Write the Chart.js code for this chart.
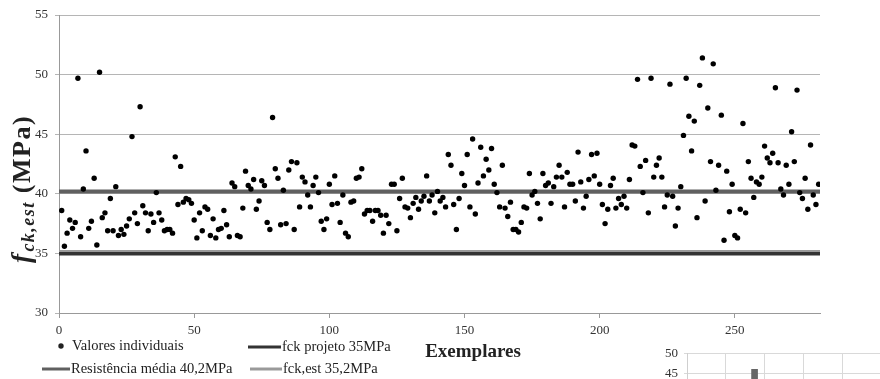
<!DOCTYPE html>
<html>
<head>
<meta charset="utf-8">
<script src="https://cdn.jsdelivr.net/npm/chart.js@4.4.1/dist/chart.umd.min.js"></script>
<style>
  body { margin: 0; background: #fff; overflow: hidden; }
  #wrap { position: relative; width: 880px; height: 379px; overflow: hidden; }
  #mainChart { position: absolute; left: 0; top: 0; }
  #smallChart { position: absolute; left: 640px; top: 340px; }
</style>
</head>
<body>
<div id="wrap">
  <canvas id="mainChart" width="880" height="379"></canvas>
  <canvas id="smallChart" width="280" height="87"></canvas>
</div>
<script>
// valores individuais, exemplares 1..281
const valores = [
  38.6, 35.6, 36.7, 37.8, 37.1, 37.6, 49.7, 36.4, 40.4, 43.6,
  37.1, 37.7, 41.3, 35.7, 50.2, 38.0, 38.4, 36.9, 39.6, 36.9,
  40.6, 36.5, 37.0, 36.6, 37.3, 37.9, 44.8, 38.4, 37.5, 47.3,
  39.0, 38.4, 36.9, 38.3, 37.6, 40.1, 38.4, 37.8, 36.9, 37.0,
  37.0, 36.7, 43.1, 39.1, 42.3, 39.3, 39.6, 39.5, 39.2, 37.8,
  36.3, 38.4, 36.9, 38.9, 38.7, 36.5, 37.9, 36.3, 37.0, 37.1,
  38.6, 37.4, 36.4, 40.9, 40.6, 36.5, 36.4, 38.8, 41.9, 40.7,
  40.4, 41.2, 38.7, 39.4, 41.1, 40.7, 37.6, 37.0, 46.4, 42.1,
  41.3, 37.4, 40.3, 37.5, 42.0, 42.7, 37.0, 42.6, 38.9, 41.4,
  41.0, 39.9, 38.9, 40.7, 41.4, 40.1, 37.7, 37.0, 37.9, 40.8,
  39.1, 41.5, 39.2, 37.6, 39.9, 36.7, 36.4, 39.3, 39.4, 41.3,
  41.4, 42.1, 38.3, 38.6, 38.6, 37.7, 38.6, 38.6, 38.2, 36.7,
  38.2, 37.5, 40.8, 40.8, 36.9, 39.6, 41.3, 38.9, 38.8, 38.0,
  39.2, 39.7, 38.7, 39.4, 39.8, 41.5, 39.4, 39.9, 38.4, 40.2,
  39.4, 39.7, 38.9, 43.3, 42.4, 39.1, 37.0, 39.6, 41.7, 40.7,
  43.3, 38.9, 44.6, 38.3, 40.9, 43.9, 41.5, 42.9, 42.0, 43.8,
  40.8, 40.1, 38.9, 42.4, 38.8, 38.1, 39.3, 37.0, 37.0, 36.8,
  37.6, 38.9, 38.8, 41.7, 39.9, 40.2, 39.2, 37.9, 41.7, 40.7,
  40.9, 39.2, 40.6, 41.4, 42.4, 41.4, 38.9, 41.8, 40.8, 40.8,
  39.4, 43.5, 41.0, 38.8, 39.8, 41.2, 43.3, 41.5, 43.4, 40.8,
  39.1, 37.5, 38.7, 40.7, 41.3, 38.8, 39.6, 39.1, 39.8, 38.8,
  41.2, 44.1, 44.0, 49.6, 42.3, 40.1, 42.8, 38.4, 49.7, 41.4,
  42.4, 43.0, 41.4, 38.9, 39.9, 49.2, 39.8, 37.3, 38.8, 40.6,
  44.9, 49.7, 46.5, 43.6, 46.1, 38.0, 49.1, 51.4, 39.4, 47.2,
  42.7, 50.9, 40.3, 42.4, 46.6, 36.1, 41.9, 38.5, 40.8, 36.5,
  36.3, 38.7, 45.9, 38.4, 42.7, 41.3, 39.7, 41.0, 40.8, 41.4,
  44.0, 43.0, 42.6, 43.4, 48.9, 42.6, 40.4, 39.9, 42.4, 40.8,
  45.2, 42.7, 48.7, 40.1, 39.6, 41.3, 38.7, 44.1, 39.9, 39.1,
  40.8
];

const resistenciaMedia = 40.2;
const fckProjeto = 35;
const fckEst = 35.2;

const xTicks = [0, 50, 100, 150, 200, 250];
const yTicks = [30, 35, 40, 45, 50, 55];

// the cut-off chart in the lower right corner
const smallBarX = [1.74];
const smallBarY = [46.1];
const smallTicks = [35, 40, 45, 50];

const xMax = 281.5;
const serif = '"Liberation Serif", "DejaVu Serif", serif';

function hLine(value) {
  return [{ x: 0, y: value }, { x: xMax, y: value }];
}

const points = valores.map((v, i) => ({ x: i + 1, y: v }));

// titles and legend drawn by hand, layout of the original is not a Chart.js legend
const decorPlugin = {
  id: 'decor',
  afterDraw(chart) {
    const ctx = chart.ctx;
    ctx.save();
    ctx.fillStyle = '#222';
    ctx.textBaseline = 'middle';

    // x title
    ctx.font = 'bold 19px ' + serif;
    ctx.textAlign = 'center';
    ctx.fillText('Exemplares', 473, 352);

    // legend
    ctx.textAlign = 'left';
    ctx.font = '14.5px ' + serif;
    ctx.beginPath();
    ctx.arc(61, 346, 2.7, 0, Math.PI * 2);
    ctx.fill();
    ctx.fillText('Valores individuais', 72, 346);

    ctx.lineWidth = 3;
    ctx.strokeStyle = '#333';
    ctx.beginPath(); ctx.moveTo(248, 347); ctx.lineTo(281, 347); ctx.stroke();
    ctx.fillText('fck projeto 35MPa', 282, 347);

    ctx.strokeStyle = '#606060';
    ctx.beginPath(); ctx.moveTo(42, 369); ctx.lineTo(70, 369); ctx.stroke();
    ctx.fillText('Resistência média 40,2MPa', 71, 369);

    ctx.strokeStyle = '#9a9a9a';
    ctx.beginPath(); ctx.moveTo(250, 369); ctx.lineTo(282, 369); ctx.stroke();
    ctx.fillText('fck,est 35,2MPa', 283, 369);

    // y title f_ck,est (MPa)
    const fFont = 'italic bold 27px ' + serif;
    const subFont = 'italic bold 18px ' + serif;
    const restFont = 'bold 26px ' + serif;
    ctx.letterSpacing = '1.5px';
    ctx.font = fFont; const w1 = ctx.measureText('f').width + 1;
    ctx.font = subFont; const w2 = ctx.measureText('ck,est').width;
    ctx.font = restFont; const w3 = ctx.measureText(' (MPa)').width;
    const total = w1 + w2 + w3;
    ctx.translate(22, 189);
    ctx.rotate(-Math.PI / 2);
    ctx.textAlign = 'left';
    ctx.textBaseline = 'alphabetic';
    let pos = -total / 2;
    ctx.font = fFont; ctx.fillText('f', pos, 8); pos += w1;
    ctx.font = subFont; ctx.fillText('ck,est', pos, 12); pos += w2;
    ctx.font = restFont; ctx.fillText(' (MPa)', pos, 8);
    ctx.restore();
  }
};

new Chart(document.getElementById('mainChart'), {
  type: 'scatter',
  data: {
    datasets: [
      {
        label: 'Valores individuais',
        data: points,
        pointRadius: 2.7,
        pointHoverRadius: 2.7,
        pointBackgroundColor: '#000',
        pointBorderWidth: 0,
        order: 0
      },
      {
        label: 'fck projeto 35MPa',
        type: 'line',
        data: hLine(fckProjeto),
        borderColor: '#333',
        borderWidth: 4,
        pointRadius: 0,
        order: 3
      },
      {
        label: 'fck,est 35,2MPa',
        type: 'line',
        data: hLine(fckEst),
        borderColor: '#9a9a9a',
        borderWidth: 2,
        pointRadius: 0,
        order: 2
      },
      {
        label: 'Resistência média 40,2MPa',
        type: 'line',
        data: hLine(resistenciaMedia),
        borderColor: '#606060',
        borderWidth: 4,
        pointRadius: 0,
        order: 1
      }
    ]
  },
  options: {
    responsive: false,
    animation: false,
    layout: { padding: { left: 0, right: 60, top: 15, bottom: 0 } },
    plugins: {
      legend: { display: false },
      tooltip: { enabled: false }
    },
    scales: {
      x: {
        type: 'linear',
        min: 0,
        max: xMax,
        afterFit: scale => { scale.height = 66; },
        afterBuildTicks: scale => { scale.ticks = xTicks.map(v => ({ value: v })); },
        grid: { drawOnChartArea: false, drawTicks: true, tickLength: 5, color: '#999' },
        border: { color: '#999' },
        ticks: { color: '#333', padding: 5, maxRotation: 0, font: { family: serif, size: 13 } }
      },
      y: {
        min: 30,
        max: 55,
        afterFit: scale => { scale.width = 59; },
        afterBuildTicks: scale => { scale.ticks = yTicks.map(v => ({ value: v })); },
        grid: { color: '#b5b5b5', tickLength: 4 },
        border: { color: '#999' },
        ticks: { color: '#333', padding: 7, font: { family: serif, size: 13 } }
      }
    }
  },
  plugins: [decorPlugin]
});

new Chart(document.getElementById('smallChart'), {
  type: 'bar',
  data: {
    datasets: [{
      data: smallBarX.map((x, i) => ({ x: x, y: smallBarY[i] })),
      backgroundColor: '#666',
      barThickness: 6
    }]
  },
  options: {
    responsive: false,
    animation: false,
    layout: { padding: { left: 0, right: 0, top: 12, bottom: 0 } },
    plugins: { legend: { display: false }, tooltip: { enabled: false } },
    scales: {
      x: {
        type: 'linear',
        min: 0,
        max: 6,
        offset: false,
        afterFit: scale => { scale.height = 0; },
        ticks: { display: false, stepSize: 1 },
        grid: { color: '#d9d9d9', tickLength: 0, offset: false },
        border: { color: '#d9d9d9' }
      },
      y: {
        min: 35,
        max: 50,
        afterFit: scale => { scale.width = 47; },
        afterBuildTicks: scale => { scale.ticks = smallTicks.map(v => ({ value: v })); },
        grid: { color: '#d9d9d9', tickLength: 3 },
        border: { color: '#cfcfcf' },
        ticks: { color: '#333', padding: 6, font: { family: serif, size: 13 } }
      }
    }
  }
});
</script>
</body>
</html>
